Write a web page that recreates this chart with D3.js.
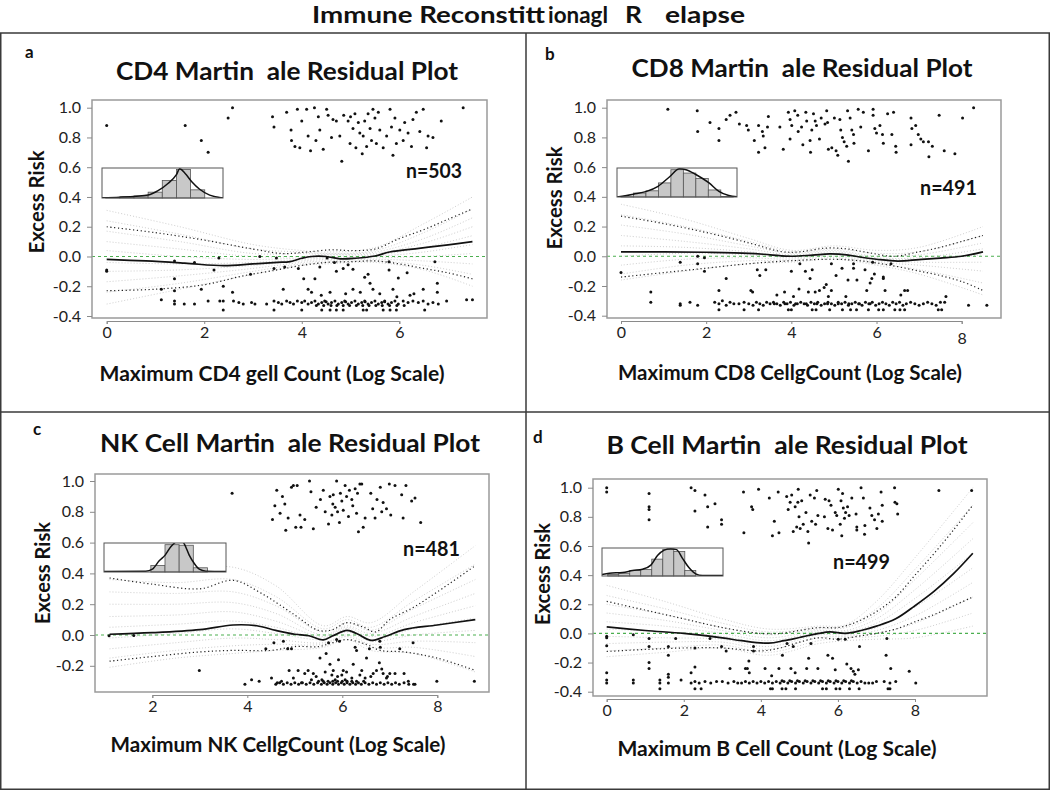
<!DOCTYPE html>
<html><head><meta charset="utf-8">
<script src="https://cdn.jsdelivr.net/npm/d3@7"></script>
<style>body{margin:0;background:#fff}svg{display:block}</style>
</head><body>
<svg id="fig" width="1050" height="790"></svg>
<script>
// ---------------- DATA ----------------
const mainTitleParts = ["Immune Reconstitt", "ionagl", "R", "elapse"];
const panelLetters = ["a", "b", "c", "d"];
const panelTitles = ["CD4 Martin  ale Residual Plot", "CD8 Martin  ale Residual Plot", "NK Cell Martin  ale Residual Plot", "B Cell Martin  ale Residual Plot"];
const xAxisTitles = ["Maximum CD4 gell Count (Log Scale)", "Maximum CD8 CellgCount (Log Scale)", "Maximum NK CellgCount (Log Scale)", "Maximum B Cell Count (Log Scale)"];
const yAxisTitle = "Excess Risk";
const sampleSizes = ["n=503", "n=491", "n=481", "n=499"];

const cd4XTicks = [0, 2, 4, 6];
const cd8XTicks = [0, 2, 4, 6, 8];
const nkXTicks = [2, 4, 6, 8];
const bXTicks = [0, 2, 4, 6, 8];
const yTicksFull = [-0.4, -0.2, 0.0, 0.2, 0.4, 0.6, 0.8, 1.0];
const yTicksNK = [-0.2, 0.0, 0.2, 0.4, 0.6, 0.8, 1.0];

// Panel a (CD4)
const cd4Points = [
[0,0.88],[1.61,0.88],[1.94,0.78],[2.08,0.70],[2.49,0.93],[2.58,1.0],[3.40,0.94],[3.43,0.87],[3.69,0.97],[3.78,0.85],[3.79,0.78],[3.86,0.74],[3.91,0.99],[3.96,0.73],[4.0,0.91],[4.1,0.99],[4.13,0.81],[4.18,0.71],[4.26,1.0],[4.29,0.78],[4.34,0.94],[4.37,0.85],[4.44,0.72],[4.51,0.99],[4.54,0.95],[4.61,0.8],[4.64,0.92],[4.71,0.91],[4.78,0.81],[4.82,0.64],[4.86,0.95],[4.95,0.91],[4.99,0.76],[5.0,0.94],[5.05,0.86],[5.09,0.96],[5.11,0.73],[5.16,0.9],[5.19,0.83],[5.24,0.69],[5.26,0.81],[5.29,0.91],[5.33,0.74],[5.36,0.96],[5.40,0.86],[5.43,0.78],[5.46,0.99],[5.5,0.93],[5.53,0.76],[5.57,0.97],[5.6,0.85],[5.67,0.73],[5.74,0.81],[5.81,0.99],[5.84,0.87],[5.87,0.68],[5.91,0.93],[5.94,0.76],[6.01,0.85],[6.08,0.78],[6.11,0.9],[6.18,0.83],[6.25,0.74],[6.28,0.92],[6.35,0.97],[6.42,0.84],[6.49,0.99],[6.56,0.73],[6.59,0.81],[6.69,0.80],[6.86,0.91],[7.31,1.0],
[0,-0.09],[0,-0.1],[1.39,-0.03],[1.8,-0.04],[2.3,-0.01],[2.2,-0.09],[1.39,-0.15],[1.39,-0.23],[1.12,-0.22],[1.94,-0.22],[2.39,-0.2],[2.58,-0.24],[2.95,-0.12],[3.14,0.0],[3.48,-0.01],[3.43,-0.08],[3.65,-0.07],[3.62,-0.22],[3.93,-0.08],[4.04,-0.15],[4.27,-0.15],[4.13,-0.22],[4.37,-0.07],[4.52,-0.01],[4.67,-0.04],[4.71,-0.1],[4.85,-0.08],[5.05,-0.085],[4.95,-0.055],[5.29,-0.14],[5.36,-0.12],[5.40,-0.18],[5.46,-0.22],[5.79,-0.035],[5.79,-0.09],[5.98,-0.145],[6.16,-0.11],[6.73,-0.035],[6.78,-0.18],[6.78,-0.24],[6.49,-0.22],[6.22,-0.26],[5.87,-0.22],[5.05,-0.22],[4.58,-0.24],[4.2,-0.24],[4.4,-0.26],[4.9,-0.25],[5.2,-0.24],[5.6,-0.25],[5.95,-0.27],[6.3,-0.25],
[1.12,-0.29],[1.39,-0.3],[1.39,-0.32],[1.59,-0.32],[1.8,-0.32],[2.08,-0.3],[2.32,-0.3],[2.39,-0.3],[2.6,-0.3],[2.71,-0.31],[2.8,-0.32],[2.97,-0.31],[3.04,-0.32],[3.28,-0.32],[3.43,-0.3],[3.52,-0.31],[3.59,-0.32],[3.69,-0.3],[3.76,-0.31],[3.83,-0.32],[3.91,-0.3],[4.0,-0.31],[4.06,-0.3],[4.13,-0.32],[4.2,-0.31],[4.27,-0.3],[4.34,-0.32],[4.41,-0.31],[4.47,-0.3],[4.54,-0.32],[4.61,-0.31],[4.68,-0.3],[4.75,-0.32],[4.82,-0.31],[4.88,-0.3],[4.95,-0.32],[5.02,-0.31],[5.09,-0.3],[5.16,-0.32],[5.23,-0.31],[5.29,-0.3],[5.36,-0.32],[5.43,-0.31],[5.5,-0.3],[5.57,-0.32],[5.64,-0.31],[5.7,-0.3],[5.77,-0.32],[5.84,-0.31],[5.91,-0.3],[5.98,-0.32],[6.08,-0.3],[6.18,-0.31],[6.28,-0.3],[6.39,-0.31],[6.49,-0.3],[6.59,-0.32],[6.69,-0.31],[6.8,-0.32],[6.97,-0.3],[7.38,-0.29],[7.5,-0.29],
[4.3,-0.33],[4.45,-0.33],[4.6,-0.33],[4.72,-0.33],[4.85,-0.33],[4.98,-0.33],[5.12,-0.33],[5.25,-0.33],[5.38,-0.33],[5.52,-0.33],[5.65,-0.33],[5.8,-0.33],[5.95,-0.33],[6.1,-0.33],[4.5,-0.305],[4.9,-0.305],[5.3,-0.305],[5.7,-0.305],
[2.39,-0.36],[3.43,-0.36],[4.0,-0.36],[4.41,-0.36],[4.58,-0.36],[4.71,-0.36],[4.85,-0.36],[5.26,-0.36],[5.33,-0.36],[5.67,-0.36],[5.81,-0.36],[5.94,-0.36],[6.52,-0.36]
];
const cd4Mean = [[0,-0.02],[0.8,-0.03],[1.6,-0.045],[2.4,-0.062],[3.0,-0.05],[3.5,-0.04],[3.76,-0.034],[4.0,-0.012],[4.2,0.0],[4.5,0.0],[4.79,-0.016],[5.1,-0.012],[5.5,0.003],[5.8,0.03],[6.4,0.055],[7.0,0.078],[7.5,0.1]];
const cd4Upper = [[0,0.2],[1,0.16],[2,0.11],[3,0.05],[3.6,0.02],[4.1,0.03],[4.6,0.045],[5.0,0.04],[5.5,0.05],[6.0,0.12],[6.5,0.18],[7.0,0.25],[7.5,0.32]];
const cd4Lower = [[0,-0.23],[1,-0.22],[2,-0.19],[2.8,-0.13],[3.5,-0.09],[4.0,-0.06],[4.5,-0.04],[5.0,-0.035],[5.5,-0.03],[6.0,-0.05],[6.5,-0.08],[7.0,-0.11],[7.5,-0.15]];
const cd4SimX = [0, 1.5, 3, 4, 4.5, 5.5, 6.5, 7.5];
const cd4Sims = [
[0.31,0.2,0.08,0.04,0.03,0.06,0.22,0.4],[0.24,0.15,0.05,0.03,0.02,0.04,0.16,0.32],[0.17,0.1,0.02,0.02,0.015,0.03,0.12,0.26],[0.1,0.05,0.0,0.0,0.01,0.02,0.09,0.2],[0.04,0.0,-0.02,-0.01,0.0,0.01,0.06,0.14],[-0.04,-0.05,-0.04,-0.02,-0.01,0.0,0.03,0.08],[-0.1,-0.09,-0.06,-0.03,-0.02,-0.01,0.0,0.02],[-0.17,-0.13,-0.08,-0.04,-0.03,-0.02,-0.03,-0.05],[-0.24,-0.18,-0.1,-0.05,-0.04,-0.03,-0.06,-0.12],[-0.32,-0.22,-0.12,-0.06,-0.05,-0.04,-0.09,-0.2]
];
const cd4Hist = [0.01,0.04,0.07,0.2,0.6,0.98,0.28,0.0];
const cd4Density = [[-0.26,0.01],[1.0,0.03],[2.17,0.06],[3.0,0.1],[3.7,0.25],[4.4,0.5],[5.0,0.8],[5.23,1.0],[5.6,0.85],[6.1,0.55],[6.64,0.3],[7.35,0.1],[8.05,0.02],[8.29,0.01]];

// Panel b (CD8)
const cd8Points = [
[1.1,0.99],[1.79,0.98],[1.8,0.84],[2.09,0.9],[2.3,0.86],[2.3,0.78],[2.47,0.92],[2.56,0.95],[2.7,0.97],[2.78,0.89],[2.95,0.88],[2.99,0.85],[3.13,0.78],[3.23,0.88],[3.23,0.7],[3.32,0.84],[3.34,0.81],[3.38,0.73],[3.44,0.87],[3.46,0.94],[3.73,0.87],[3.81,0.72],[3.93,0.97],[3.97,0.92],[3.97,0.79],[4.01,0.88],[4.08,0.98],[4.15,0.95],[4.16,0.84],[4.24,0.87],[4.27,0.75],[4.34,0.97],[4.36,0.91],[4.44,0.78],[4.45,0.7],[4.48,0.85],[4.52,0.96],[4.56,0.91],[4.59,0.88],[4.66,0.79],[4.7,0.93],[4.79,0.89],[4.83,0.98],[4.85,0.9],[4.87,0.72],[4.95,0.73],[5.01,0.93],[5.05,0.71],[5.09,0.68],[5.14,0.92],[5.16,0.85],[5.2,0.8],[5.24,0.77],[5.3,0.74],[5.32,0.98],[5.34,0.64],[5.38,0.93],[5.42,0.85],[5.46,0.82],[5.47,0.76],[5.57,0.99],[5.63,0.87],[5.69,0.97],[5.81,0.71],[5.92,0.99],[5.92,0.95],[5.96,0.86],[6.0,0.83],[6.08,0.88],[6.14,0.82],[6.16,0.76],[6.26,0.96],[6.4,0.97],[6.36,0.82],[6.45,0.74],[6.46,0.7],[6.81,0.93],[6.83,0.86],[6.81,0.75],[6.92,0.88],[6.98,0.82],[7.04,0.79],[7.1,0.77],[7.22,0.77],[7.23,0.67],[7.31,0.74],[7.47,0.95],[7.59,0.71],[7.84,0.69],[8.02,0.93],[8.28,1.0],
[0,-0.11],[1.39,-0.04],[1.8,0.0],[1.8,-0.05],[1.96,-0.01],[1.96,-0.1],[2.47,-0.15],[2.3,-0.23],[0.7,-0.24],[0.7,-0.31],[1.39,-0.32],[1.39,-0.33],[1.62,-0.31],[1.8,-0.33],[3.05,-0.23],[3.09,-0.24],[3.2,-0.09],[3.26,-0.13],[3.4,-0.09],[3.66,-0.26],[3.84,-0.24],[4.0,-0.1],[4.05,-0.27],[4.18,-0.22],[4.2,-0.05],[4.33,-0.1],[4.4,-0.24],[4.44,-0.15],[4.49,-0.09],[4.56,-0.24],[4.66,-0.23],[4.77,-0.21],[4.82,-0.19],[4.87,-0.27],[4.94,-0.05],[4.94,-0.23],[5.05,-0.13],[5.19,-0.08],[5.28,-0.27],[5.33,-0.16],[5.46,-0.05],[5.46,-0.08],[5.54,-0.16],[5.73,-0.09],[5.77,-0.23],[5.85,-0.18],[5.89,-0.15],[5.91,-0.04],[5.95,-0.12],[6.16,-0.14],[6.16,-0.15],[6.2,-0.23],[6.34,-0.05],[6.57,-0.26],[6.66,-0.23],[6.73,-0.23],[7.63,-0.27],[8.16,-0.33],[8.59,-0.33],
[2.2,-0.31],[2.3,-0.32],[2.38,-0.3],[2.47,-0.33],[2.56,-0.31],[2.65,-0.32],[2.77,-0.32],[2.89,-0.31],[3.0,-0.32],[3.1,-0.33],[3.18,-0.31],[3.26,-0.32],[3.34,-0.33],[3.42,-0.31],[3.5,-0.32],[3.58,-0.31],[3.66,-0.32],[3.74,-0.33],[3.82,-0.31],[3.9,-0.32],[3.98,-0.31],[4.06,-0.33],[4.14,-0.32],[4.22,-0.31],[4.3,-0.32],[4.38,-0.33],[4.46,-0.31],[4.54,-0.32],[4.62,-0.31],[4.7,-0.33],[4.78,-0.32],[4.86,-0.31],[4.94,-0.32],[5.02,-0.33],[5.1,-0.31],[5.18,-0.32],[5.26,-0.31],[5.34,-0.33],[5.42,-0.32],[5.5,-0.31],[5.58,-0.32],[5.66,-0.33],[5.74,-0.31],[5.82,-0.32],[5.9,-0.31],[5.98,-0.33],[6.06,-0.32],[6.14,-0.31],[6.22,-0.32],[6.3,-0.33],[6.38,-0.31],[6.46,-0.32],[6.54,-0.31],[6.62,-0.33],[6.7,-0.32],[6.8,-0.31],[6.9,-0.32],[7.0,-0.33],[7.1,-0.32],[7.2,-0.31],[7.3,-0.32],[7.4,-0.33],[7.5,-0.31],[7.6,-0.31],
[3.6,-0.32],[3.85,-0.32],[4.1,-0.32],[4.35,-0.32],[4.6,-0.32],[4.85,-0.32],[5.1,-0.32],[5.35,-0.32],[5.6,-0.32],[5.85,-0.32],
[2.3,-0.36],[2.89,-0.36],[3.23,-0.36],[3.93,-0.36],[4.0,-0.36],[4.49,-0.36],[4.58,-0.36],[4.9,-0.36],[5.2,-0.36],[5.39,-0.36],[5.53,-0.36],[5.81,-0.36],[6.05,-0.36],[6.16,-0.36],[6.43,-0.36],[6.55,-0.36],[6.66,-0.36],[7.45,-0.36],[7.53,-0.36]
];
const cd8Mean = [[0,0.03],[1,0.03],[2,0.027],[3,0.02],[3.5,0.01],[4,0.0],[4.5,0.008],[4.9,0.016],[5.3,0.01],[5.6,-0.005],[6,-0.02],[6.5,-0.032],[7,-0.022],[7.5,-0.012],[8,0.0],[8.5,0.03]];
const cd8Upper = [[0,0.27],[1,0.22],[2,0.16],[3,0.09],[3.8,0.03],[4.2,0.03],[4.8,0.055],[5.3,0.05],[5.8,0.025],[6.4,0.0],[7,0.03],[7.5,0.06],[8,0.1],[8.5,0.14]];
const cd8Lower = [[0,-0.14],[1,-0.11],[2,-0.08],[3,-0.05],[4,-0.03],[5,-0.02],[5.6,-0.03],[6,-0.045],[6.5,-0.07],[7,-0.1],[7.5,-0.13],[8,-0.17],[8.5,-0.23]];
const cd8SimX = [0, 1.5, 3, 4, 5, 6, 7, 8.5];
const cd8Sims = [
[0.35,0.25,0.12,0.04,0.07,0.04,0.06,0.2],[0.28,0.2,0.1,0.03,0.05,0.02,0.03,0.14],[0.21,0.15,0.07,0.02,0.04,0.0,0.01,0.09],[0.14,0.1,0.05,0.01,0.03,-0.01,-0.01,0.05],[0.07,0.06,0.03,0.0,0.02,-0.02,-0.02,0.01],[0.0,0.02,0.01,-0.01,0.01,-0.03,-0.04,-0.04],[-0.06,-0.02,-0.01,-0.02,0.0,-0.04,-0.06,-0.1],[-0.12,-0.06,-0.03,-0.03,-0.01,-0.05,-0.09,-0.18],[-0.16,-0.1,-0.05,-0.04,-0.02,-0.06,-0.12,-0.26]
];
const cd8Hist = [0.01,0.14,0.22,0.5,0.97,0.85,0.66,0.25,0.02];
const cd8Density = [[-0.32,0.0],[1.0,0.1],[2.05,0.2],[2.97,0.38],[3.9,0.72],[4.69,1.0],[5.21,0.97],[6.0,0.8],[7.06,0.5],[7.85,0.2],[8.64,0.05],[9.3,0.01]];

// Panel c (NK)
const nkPoints = [
[3.68,0.92],[4.53,0.75],[4.58,0.84],[4.62,0.94],[4.69,0.79],[4.74,0.9],[4.79,0.85],[4.81,0.68],[4.86,0.76],[4.93,0.96],[4.97,0.97],[5.02,0.7],[5.05,0.97],[5.11,0.78],[5.13,0.7],[5.21,0.75],[5.31,1.0],[5.34,0.93],[5.39,0.69],[5.45,0.83],[5.54,0.88],[5.6,0.94],[5.64,0.8],[5.71,0.72],[5.74,0.9],[5.78,0.78],[5.8,0.85],[5.81,0.91],[5.85,0.83],[5.88,1.0],[5.9,0.8],[5.94,0.73],[5.96,0.92],[5.99,0.87],[6.02,0.81],[6.06,0.97],[6.09,0.9],[6.13,0.77],[6.15,0.94],[6.2,0.88],[6.22,0.84],[6.27,0.95],[6.3,0.79],[6.32,0.92],[6.34,0.67],[6.37,0.98],[6.41,0.98],[6.44,0.7],[6.48,0.76],[6.6,0.92],[6.64,0.82],[6.69,0.76],[6.73,0.88],[6.8,0.96],[6.83,0.8],[6.86,0.86],[6.93,0.82],[6.99,0.98],[7.02,0.78],[7.11,0.97],[7.25,0.91],[7.28,0.76],[7.34,0.97],[7.46,0.87],[7.53,0.89],[7.65,0.73],
[1.09,-0.005],[1.61,-0.003],[2.99,-0.23],[3.95,-0.32],[4.09,-0.29],[4.25,-0.3],[4.39,-0.09],[4.51,-0.28],[4.56,-0.05],[4.63,-0.31],[4.72,-0.3],[4.76,-0.04],[4.85,-0.09],[4.88,-0.23],[4.93,-0.09],[4.97,-0.28],[5.07,-0.23],[5.14,-0.31],[5.21,-0.25],[5.28,-0.23],[5.35,-0.29],[5.39,-0.25],[5.53,-0.15],[5.57,-0.29],[5.64,-0.24],[5.66,-0.12],[5.71,-0.05],[5.74,-0.19],[5.78,-0.26],[5.81,-0.23],[5.85,-0.29],[5.88,-0.03],[5.92,-0.16],[5.94,-0.04],[5.99,-0.26],[6.02,-0.23],[6.06,-0.29],[6.09,-0.24],[6.23,-0.19],[6.27,-0.08],[6.3,-0.1],[6.37,-0.26],[6.41,-0.23],[6.48,-0.28],[6.51,-0.15],[6.57,-0.09],[6.65,-0.25],[6.72,-0.23],[6.78,-0.18],[6.79,-0.04],[6.8,-0.08],[6.83,-0.22],[6.86,-0.25],[6.93,-0.28],[7.0,-0.25],[7.11,-0.25],[7.21,-0.09],[7.3,-0.25],[7.39,-0.3],[7.49,-0.05],[7.53,-0.32],[7.99,-0.3],[8.78,-0.3],
[4.6,-0.32],[4.68,-0.31],[4.76,-0.32],[4.84,-0.31],[4.92,-0.32],[5.0,-0.31],[5.08,-0.32],[5.16,-0.31],[5.24,-0.32],[5.32,-0.31],[5.4,-0.32],[5.48,-0.31],[5.56,-0.32],[5.62,-0.31],[5.68,-0.32],[5.74,-0.31],[5.8,-0.32],[5.86,-0.31],[5.92,-0.32],[5.98,-0.31],[6.04,-0.32],[6.1,-0.31],[6.16,-0.32],[6.22,-0.31],[6.28,-0.32],[6.34,-0.31],[6.4,-0.32],[6.48,-0.31],[6.56,-0.32],[6.64,-0.31],[6.72,-0.32],[6.8,-0.31],[6.88,-0.32],[6.96,-0.31],[7.04,-0.32],[7.12,-0.31],[7.2,-0.32],[7.3,-0.31],[7.4,-0.32],[7.5,-0.32],
[5.5,-0.3],[5.6,-0.3],[5.7,-0.3],[5.8,-0.3],[5.9,-0.3],[6.0,-0.3],[6.1,-0.3],[6.2,-0.3],[6.3,-0.3],[6.45,-0.3],[5.45,-0.27],[5.9,-0.27],[6.2,-0.28],[6.6,-0.27],[6.95,-0.27]
];
const nkMean = [[1.1,0.005],[2,0.015],[3,0.035],[3.7,0.065],[4.2,0.06],[4.6,0.03],[5.0,0.005],[5.3,-0.005],[5.6,-0.032],[5.8,-0.005],[6.1,0.03],[6.3,0.01],[6.6,-0.035],[6.9,-0.01],[7.3,0.035],[8,0.065],[8.8,0.1]];
const nkUpper = [[1.1,0.37],[2,0.33],[3,0.3],[3.7,0.355],[4.3,0.27],[5,0.13],[5.5,0.03],[5.8,0.035],[6.1,0.08],[6.45,0.05],[6.7,0.02],[7,0.1],[7.5,0.18],[8,0.28],[8.8,0.45]];
const nkLower = [[1.1,-0.17],[2,-0.14],[3,-0.11],[3.7,-0.1],[4.5,-0.1],[5,-0.075],[5.5,-0.075],[5.8,-0.05],[6.1,-0.03],[6.5,-0.06],[6.8,-0.1],[7.3,-0.11],[8,-0.15],[8.8,-0.23]];
const nkSimX = [1.1, 2.5, 3.7, 4.6, 5.6, 6.1, 6.6, 7.5, 8.8];
const nkSims = [
[0.45,0.42,0.44,0.32,0.06,0.12,0.08,0.28,0.58],[0.36,0.34,0.36,0.25,0.04,0.1,0.05,0.22,0.46],[0.28,0.27,0.28,0.19,0.02,0.08,0.03,0.17,0.36],[0.2,0.2,0.21,0.14,0.0,0.06,0.01,0.12,0.27],[0.12,0.13,0.15,0.09,-0.01,0.05,-0.01,0.08,0.19],[0.05,0.07,0.09,0.05,-0.02,0.04,-0.03,0.04,0.11],[-0.02,0.01,0.04,0.01,-0.03,0.02,-0.04,0.0,0.03],[-0.09,-0.05,-0.02,-0.03,-0.05,0.0,-0.06,-0.04,-0.05],[-0.15,-0.1,-0.07,-0.06,-0.06,-0.01,-0.08,-0.08,-0.14],[-0.21,-0.15,-0.12,-0.1,-0.08,-0.03,-0.1,-0.12,-0.24]
];
const nkHist = [0,0,0,0.23,0.97,0.95,0.15,0];
const nkDensity = [[-0.31,0.02],[2.64,0.03],[3.11,0.1],[3.59,0.4],[4.01,0.6],[4.41,0.9],[4.72,1.05],[5.0,1.15],[5.36,1.0],[5.71,0.6],[6.07,0.3],[6.42,0.1],[6.89,0.03],[8.31,0.02]];

// Panel d (B cell)
const bPoints = [
[0,1.0],[0,0.97],[1.1,0.96],[1.1,0.87],[1.1,0.85],[1.1,0.78],[2.19,1.0],[2.29,0.98],[2.29,0.84],[2.55,0.95],[2.62,0.87],[2.62,0.73],[2.81,0.89],[2.98,0.78],[2.98,0.75],[3.55,0.97],[3.56,0.69],[3.76,0.87],[3.79,0.85],[3.94,0.99],[4.22,0.93],[4.3,0.67],[4.35,0.77],[4.47,0.69],[4.45,0.97],[4.67,0.94],[4.71,0.85],[4.76,0.9],[4.8,0.95],[4.84,0.7],[4.89,0.87],[4.93,0.73],[4.96,0.9],[4.97,0.99],[4.99,0.8],[5.02,0.72],[5.06,0.91],[5.1,0.75],[5.17,0.83],[5.22,0.7],[5.24,0.62],[5.28,0.95],[5.32,0.77],[5.39,0.93],[5.42,0.75],[5.45,0.98],[5.48,0.81],[5.65,0.8],[5.67,0.92],[5.74,0.72],[5.77,0.91],[5.82,0.88],[5.86,0.71],[5.93,0.83],[5.97,0.81],[6.01,0.99],[6.06,0.75],[6.08,0.91],[6.1,0.67],[6.12,0.96],[6.14,0.86],[6.17,0.79],[6.2,0.83],[6.25,0.87],[6.29,0.81],[6.36,0.93],[6.47,0.82],[6.49,0.73],[6.49,0.71],[6.6,1.0],[6.66,0.93],[6.69,0.68],[6.7,0.74],[6.83,0.86],[6.88,0.81],[6.95,0.78],[7.01,0.72],[7.05,0.82],[7.12,0.97],[7.15,0.88],[7.15,0.77],[7.47,1.0],[7.48,0.9],[7.53,0.89],[7.55,0.82],[8.62,0.98],[9.47,0.98],
[0,-0.02],[0,-0.03],[0,-0.085],[0,-0.27],[0,-0.32],[0,-0.34],[0.69,-0.01],[0.69,-0.32],[0.69,-0.34],[1.1,-0.035],[1.1,-0.09],[1.1,-0.2],[1.1,-0.24],[1.38,-0.32],[1.38,-0.34],[1.6,-0.09],[1.6,-0.15],[1.6,-0.28],[1.6,-0.3],[1.6,-0.34],[1.79,-0.035],[2.19,-0.27],[2.29,-0.1],[2.29,-0.23],[2.68,-0.035],[2.98,-0.09],[3.1,-0.12],[3.2,-0.24],[3.6,-0.24],[3.65,-0.24],[3.7,-0.27],[3.69,-0.19],[3.81,-0.09],[3.81,-0.12],[4.11,-0.24],[4.28,-0.29],[4.47,-0.24],[4.56,-0.15],[4.68,-0.07],[4.78,-0.24],[4.84,-0.09],[4.89,-0.27],[5.24,-0.17],[5.3,-0.07],[5.19,-0.24],[5.48,-0.24],[5.74,-0.15],[5.86,-0.17],[5.93,-0.25],[6.01,-0.04],[6.19,-0.04],[6.23,-0.21],[6.34,-0.24],[6.4,-0.26],[6.44,-0.28],[6.53,-0.25],[6.56,-0.09],[7.27,-0.035],[7.25,-0.15],[7.37,-0.24],[7.85,-0.26],[8.02,-0.34],
[1.93,-0.32],[2.19,-0.34],[2.29,-0.33],[2.4,-0.34],[2.55,-0.33],[2.7,-0.34],[2.85,-0.33],[3.0,-0.33],[3.15,-0.34],[3.3,-0.33],[3.4,-0.34],[3.5,-0.34],[3.6,-0.33],[3.7,-0.34],[3.8,-0.33],[3.9,-0.34],[4.0,-0.33],[4.1,-0.34],[4.2,-0.33],[4.3,-0.34],[4.4,-0.33],[4.5,-0.34],[4.6,-0.33],[4.7,-0.34],[4.8,-0.33],[4.9,-0.34],[5.0,-0.33],[5.1,-0.34],[5.2,-0.33],[5.3,-0.34],[5.4,-0.33],[5.5,-0.34],[5.6,-0.33],[5.7,-0.34],[5.8,-0.33],[5.9,-0.34],[6.0,-0.33],[6.1,-0.34],[6.2,-0.33],[6.3,-0.34],[6.4,-0.33],[6.5,-0.34],[6.6,-0.33],[6.7,-0.34],[6.8,-0.34],[6.9,-0.34],[7.0,-0.33],[7.2,-0.33],[7.35,-0.34],[7.5,-0.33],
[4.55,-0.325],[4.75,-0.325],[4.95,-0.325],[5.15,-0.325],[5.35,-0.325],[5.55,-0.325],[5.75,-0.325],[5.95,-0.325],[6.15,-0.325],[6.35,-0.325],
[1.38,-0.38],[2.29,-0.38],[2.45,-0.38],[4.25,-0.38],[4.3,-0.38],[4.55,-0.38],[4.65,-0.38],[4.9,-0.38],[5.6,-0.38],[5.7,-0.38],[5.95,-0.38],[6.05,-0.38],[6.3,-0.38],[6.55,-0.38],[7.3,-0.38],[7.35,-0.38]
];
const bMean = [[0,0.045],[1,0.02],[2,0.0],[3,-0.03],[3.5,-0.05],[4.2,-0.067],[4.6,-0.05],[5,-0.028],[5.5,0.0],[5.8,0.01],[6.2,0.0],[6.6,0.02],[7,0.05],[7.5,0.1],[8,0.19],[8.5,0.29],[9,0.41],[9.5,0.55]];
const bUpper = [[0,0.22],[1,0.16],[2,0.1],[3,0.04],[4,0.0],[4.5,0.0],[5,0.02],[5.5,0.04],[6,0.04],[6.5,0.08],[7,0.15],[7.5,0.25],[8,0.4],[8.5,0.55],[9,0.71],[9.5,0.88]];
const bLower = [[0,-0.124],[1,-0.11],[2,-0.1],[3,-0.1],[4,-0.12],[4.5,-0.1],[5,-0.06],[5.5,-0.03],[6,-0.04],[6.5,-0.02],[7,0.0],[7.5,0.03],[8,0.08],[8.5,0.13],[9,0.19],[9.5,0.25]];
const bSimX = [0, 1.5, 3, 4.2, 5.5, 6.2, 7, 8, 9.5];
const bSims = [
[0.33,0.22,0.1,0.03,0.05,0.06,0.22,0.52,1.0],[0.26,0.17,0.07,0.01,0.04,0.05,0.17,0.44,0.88],[0.2,0.13,0.04,-0.01,0.03,0.04,0.13,0.37,0.76],[0.14,0.09,0.02,-0.03,0.02,0.02,0.1,0.3,0.65],[0.08,0.05,0.0,-0.05,0.01,0.01,0.07,0.24,0.55],[0.03,0.01,-0.02,-0.07,0.0,0.0,0.04,0.18,0.45],[-0.02,-0.03,-0.04,-0.09,-0.01,-0.01,0.02,0.12,0.35],[-0.07,-0.06,-0.06,-0.11,-0.03,-0.02,0.0,0.07,0.25],[-0.12,-0.1,-0.08,-0.13,-0.05,-0.03,-0.02,0.02,0.14],[-0.16,-0.13,-0.1,-0.15,-0.07,-0.05,-0.04,-0.03,0.05]
];
const bHist = [0.06,0.1,0.2,0.24,0.62,0.98,0.9,0.2,0.0,0.0];
const bDensity = [[-0.52,0.05],[0.15,0.1],[1.36,0.13],[2.26,0.2],[3.17,0.25],[3.92,0.4],[4.52,0.75],[5.13,0.95],[5.73,1.0],[6.25,0.97],[6.79,0.65],[7.39,0.3],[7.99,0.08],[8.6,0.02],[10.47,0.02]];

// ---------------- LAYOUT ----------------
const panels = [
  {pts: cd4Points, mean: cd4Mean, up: cd4Upper, lo: cd4Lower, simX: cd4SimX, sims: cd4Sims, hist: cd4Hist, dens: cd4Density, xTicks: cd4XTicks, yTicks: yTicksFull,
   frame: [92,100,487,318], xAnch: [[0,106.7],[6,399.3]], yAnch: [[1.0,107.7],[-0.4,316]],
   letter: [25,58], title: [287,80,342], ylab: [44,202,103], xlab: [272,381,345], nlab: [406,178,56],
   inset: [102,168,223,198], insetDom: [-0.26,8.29], tickShift: {}},
  {pts: cd8Points, mean: cd8Mean, up: cd8Upper, lo: cd8Lower, simX: cd8SimX, sims: cd8Sims, hist: cd8Hist, dens: cd8Density, xTicks: cd8XTicks, yTicks: yTicksFull,
   frame: [607,100,1001,318], xAnch: [[0,621],[8,961.7]], yAnch: [[1.0,107.7],[-0.4,315.7]],
   letter: [545,60], title: [802,77,341], ylab: [562,198,103], xlab: [790,380,344], nlab: [920,195,57],
   inset: [617,168,737,197], insetDom: [-0.32,9.3], tickShift: {8: 6}},
  {pts: nkPoints, mean: nkMean, up: nkUpper, lo: nkLower, simX: nkSimX, sims: nkSims, hist: nkHist, dens: nkDensity, xTicks: nkXTicks, yTicks: yTicksNK,
   frame: [95,474,489,692], xAnch: [[2,152.3],[8,437.3]], yAnch: [[1.0,481],[0.0,635]],
   letter: [33,435], title: [290,452,380], ylab: [50,573,102], xlab: [278,752,335], nlab: [403,556,57],
   inset: [104,543,226,572], insetDom: [-0.31,8.31], tickShift: {}},
  {pts: bPoints, mean: bMean, up: bUpper, lo: bLower, simX: bSimX, sims: bSims, hist: bHist, dens: bDensity, xTicks: bXTicks, yTicks: yTicksFull,
   frame: [593,479,987,696], xAnch: [[0,606.7],[8,915]], yAnch: [[1.0,487.7],[-0.4,691.7]],
   letter: [533,443], title: [787,454,361], ylab: [550,574,102], xlab: [777,756,319], nlab: [833,569,57],
   inset: [602,548,723,576], insetDom: [-0.52,10.47], tickShift: {}}
];

const svg = d3.select("#fig");
const FONT = "Lato, 'Open Sans', sans-serif";

// main title (bold, in pieces as in the original rendering)
const mt = svg.append("g").attr("font-family", FONT).attr("font-size", 22).attr("font-weight", "bold").attr("fill", "#111");
const mtPos = [[312, 233], [548, 60], [625, 17], [665, 80]];
mainTitleParts.forEach((s, k) => {
  mt.append("text").attr("x", mtPos[k][0]).attr("y", 23).attr("textLength", mtPos[k][1])
    .attr("lengthAdjust", "spacingAndGlyphs").text(s);
});

// borders
const bord = svg.append("g").attr("stroke", "#3a3a3a").attr("stroke-width", 1.5).attr("fill", "none");
bord.append("rect").attr("x", 0.75).attr("y", 33).attr("width", 1048.5).attr("height", 756.25);
bord.append("line").attr("x1", 526).attr("x2", 526).attr("y1", 33).attr("y2", 790);
bord.append("line").attr("x1", 0).attr("x2", 1050).attr("y1", 412).attr("y2", 412);

const fmt = v => (Math.abs(v) < 1e-9 ? 0 : v).toFixed(1);

panels.forEach((p, i) => {
  const [fx0, fy0, fx1, fy1] = p.frame;
  const x = d3.scaleLinear().domain([p.xAnch[0][0], p.xAnch[1][0]]).range([p.xAnch[0][1], p.xAnch[1][1]]);
  const y = d3.scaleLinear().domain([p.yAnch[0][0], p.yAnch[1][0]]).range([p.yAnch[0][1], p.yAnch[1][1]]);
  const g = svg.append("g");
  const clipId = "clip" + i;
  svg.append("clipPath").attr("id", clipId).append("rect").attr("x", fx0).attr("y", fy0).attr("width", fx1 - fx0).attr("height", fy1 - fy0);
  const plot = g.append("g").attr("clip-path", `url(#${clipId})`);

  const line = d3.line().x(d => x(d[0])).y(d => y(d[1])).curve(d3.curveCatmullRom.alpha(0.5));

  p.sims.forEach(s => {
    plot.append("path").attr("d", line(s.map((v, k) => [p.simX[k], v])))
      .attr("fill", "none").attr("stroke", "#cfcfcf").attr("stroke-width", 1).attr("stroke-dasharray", "1,2");
  });
  plot.append("line").attr("x1", fx0).attr("x2", fx1).attr("y1", y(0)).attr("y2", y(0))
    .attr("stroke", "#4caf50").attr("stroke-width", 1.1).attr("stroke-dasharray", "3,3");
  [p.up, p.lo].forEach(b => {
    plot.append("path").attr("d", line(b)).attr("fill", "none").attr("stroke", "#222")
      .attr("stroke-width", 1.2).attr("stroke-dasharray", "1.2,2.6");
  });
  plot.append("path").attr("d", line(p.mean)).attr("fill", "none").attr("stroke", "#111").attr("stroke-width", 1.7);
  g.append("g").selectAll("circle").data(p.pts).join("circle")
    .attr("cx", d => x(d[0])).attr("cy", d => y(d[1])).attr("r", 1.5).attr("fill", "#111");

  g.append("rect").attr("x", fx0).attr("y", fy0).attr("width", fx1 - fx0).attr("height", fy1 - fy0)
    .attr("fill", "none").attr("stroke", "#9a9a9a").attr("stroke-width", 1.5);

  const yAx = g.append("g").attr("transform", `translate(${fx0},0)`)
    .call(d3.axisLeft(y).tickValues(p.yTicks).tickFormat(fmt).tickSize(5).tickPadding(6));
  const xAx = g.append("g").attr("transform", `translate(0,${fy1 + 3})`)
    .call(d3.axisBottom(x).tickValues(p.xTicks).tickFormat(d3.format("d")).tickSize(3).tickPadding(3));
  yAx.select(".domain").remove();
  [yAx, xAx].forEach(ax => {
    ax.select(".domain").attr("stroke", "#8a8a8a");
    ax.selectAll(".tick line").attr("stroke", "#8a8a8a");
    ax.selectAll("text").attr("font-family", FONT).attr("font-size", 16).attr("fill", "#222");
  });
  xAx.selectAll(".tick text").attr("dy", d => (p.tickShift[d] ? (0.71 * 16 + p.tickShift[d]) + "px" : "0.71em"));

  // inset histogram
  const [ix0, iy0, ix1, iy1] = p.inset;
  const xi = d3.scaleLinear().domain(p.insetDom).range([ix0, ix1]);
  const yi = d3.scaleLinear().domain([0, 1.03]).range([iy1, iy0]);
  const ig = g.append("g");
  ig.append("rect").attr("x", ix0).attr("y", iy0).attr("width", ix1 - ix0).attr("height", iy1 - iy0).attr("fill", "#fff");
  const iclip = "iclip" + i;
  svg.append("clipPath").attr("id", iclip).append("rect").attr("x", ix0).attr("y", iy0).attr("width", ix1 - ix0).attr("height", iy1 - iy0);
  ig.selectAll("rect.bar").data(p.hist).join("rect").attr("class", "bar")
    .attr("x", (d, k) => xi(k)).attr("width", (d, k) => xi(k + 1) - xi(k))
    .attr("y", d => yi(d)).attr("height", d => iy1 - yi(d))
    .attr("fill", "#c8c8c8").attr("stroke", "#555").attr("stroke-width", 0.8);
  ig.append("path").attr("clip-path", `url(#${iclip})`)
    .attr("d", d3.line().x(d => xi(d[0])).y(d => yi(d[1])).curve(d3.curveMonotoneX)(p.dens))
    .attr("fill", "none").attr("stroke", "#111").attr("stroke-width", 1.5);
  ig.append("rect").attr("x", ix0).attr("y", iy0).attr("width", ix1 - ix0).attr("height", iy1 - iy0)
    .attr("fill", "none").attr("stroke", "#555").attr("stroke-width", 1);

  const t = g.append("g").attr("font-family", FONT).attr("font-weight", "bold").attr("fill", "#111");
  t.append("text").attr("x", p.letter[0]).attr("y", p.letter[1]).attr("font-size", 17).text(panelLetters[i]);
  t.append("text").attr("x", p.title[0]).attr("y", p.title[1]).attr("text-anchor", "middle").attr("font-size", 24)
    .attr("textLength", p.title[2]).attr("lengthAdjust", "spacingAndGlyphs").style("white-space", "pre").text(panelTitles[i]);
  t.append("text").attr("transform", `translate(${p.ylab[0]},${p.ylab[1]}) rotate(-90)`).attr("text-anchor", "middle")
    .attr("font-size", 20).attr("textLength", p.ylab[2]).attr("lengthAdjust", "spacingAndGlyphs").text(yAxisTitle);
  t.append("text").attr("x", p.xlab[0]).attr("y", p.xlab[1]).attr("text-anchor", "middle").attr("font-size", 21)
    .attr("textLength", p.xlab[2]).attr("lengthAdjust", "spacingAndGlyphs").text(xAxisTitles[i]);
  t.append("text").attr("x", p.nlab[0]).attr("y", p.nlab[1]).attr("font-size", 20)
    .attr("textLength", p.nlab[2]).attr("lengthAdjust", "spacingAndGlyphs").text(sampleSizes[i]);
});
</script>
</body></html>
